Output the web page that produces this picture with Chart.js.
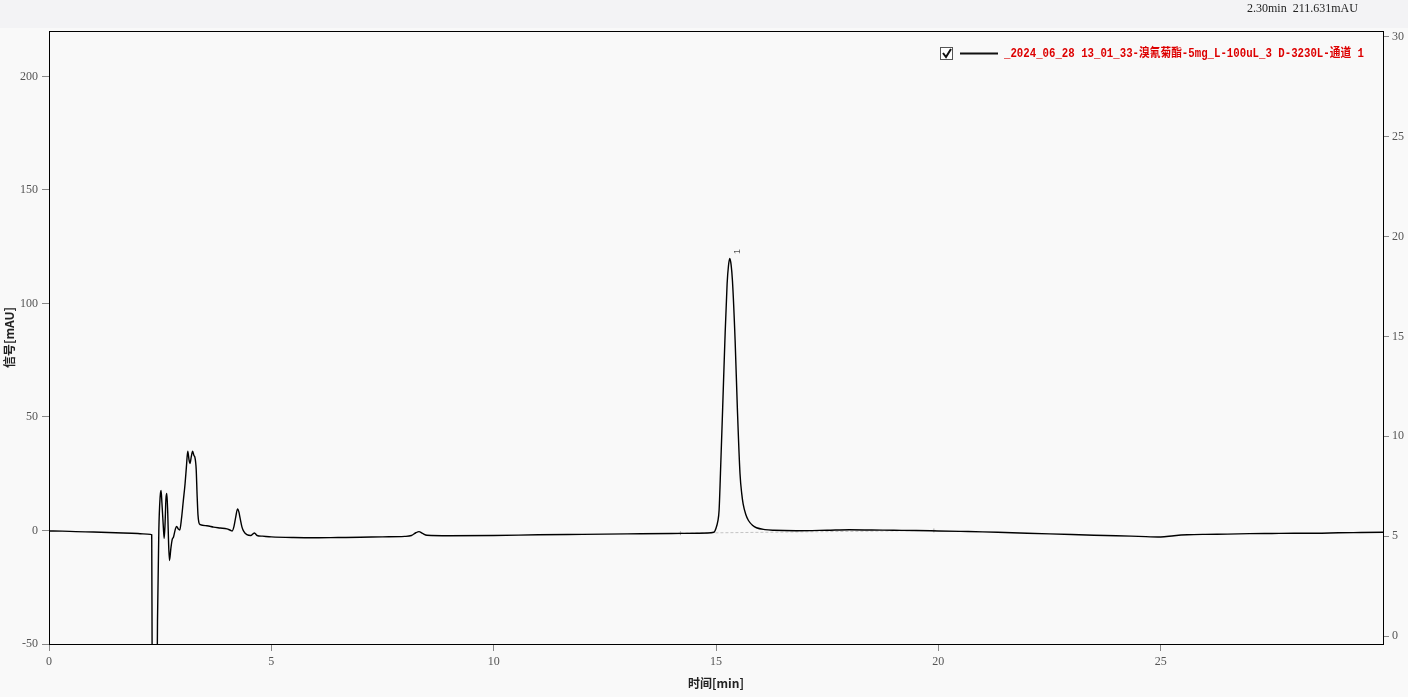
<!DOCTYPE html>
<html lang="zh">
<head>
    <meta charset="UTF-8">
    <title>Chromatogram</title>
    <script src="https://cdn.jsdelivr.net/npm/chart.js"></script>
    <style>
        html, body {
            margin: 0;
            padding: 0;
            background: #f9f9f9;
        }
        .chart-box {
            position: relative;
            width: 1408px;
            height: 697px;
        }
    </style>
</head>
<body>
    <div class="chart-box">
        <canvas id="chromChart"></canvas>
    </div>

    <script>
        // retention time [min] and detector signal [mAU]
        const times = [
            0.0, 0.3, 0.6, 1.0, 1.5, 2.0, 2.28, 2.31, 2.32, 2.34, 2.42, 2.44, 2.47, 2.50, 2.52,
            2.54, 2.57, 2.59, 2.61, 2.63, 2.65, 2.67, 2.69, 2.71, 2.74, 2.77, 2.80, 2.84, 2.87,
            2.91, 2.94, 2.98, 3.02, 3.06, 3.09, 3.12, 3.15, 3.17, 3.20, 3.23, 3.26, 3.28, 3.31,
            3.33, 3.35, 3.37, 3.40, 3.55, 3.70, 3.85, 4.00, 4.08, 4.12, 4.16, 4.20, 4.24, 4.27,
            4.30, 4.34, 4.38, 4.45, 4.54, 4.58, 4.62, 4.68, 4.80, 5.0, 5.5, 6.0, 6.5, 7.0, 7.5,
            8.0, 8.15, 8.25, 8.32, 8.40, 8.50, 9.0, 10.0, 11.0, 12.0, 13.0, 14.0, 14.6, 14.95,
            15.00, 15.04, 15.07, 15.10, 15.15, 15.20, 15.25, 15.28, 15.31, 15.34, 15.37, 15.43,
            15.48, 15.54, 15.58, 15.61, 15.67, 15.73, 15.82, 15.91, 16.10, 16.3, 16.8, 17.5,
            18.0, 18.5, 19.0, 19.5, 20.0, 20.5, 21.0, 21.5, 22.0, 22.5, 23.0, 23.5, 24.0, 24.5,
            25.0, 25.3, 25.6, 26.0, 26.5, 27.0, 27.5, 28.0, 28.5, 29.0, 29.5, 30.0
        ];
        const signal = [
            -0.2, -0.3, -0.5, -0.7, -1.0, -1.3, -1.7, -1.9, -60, -90, -90, -40, 0, 15, 17.6,
            12, 2, -3.5, 3, 14, 16.3, 8, -6, -13.2, -8, -4, -2.9, 0.5, 1.8,
            0.6, 0.2, 5.3, 13, 20.6, 28, 34.9, 31, 29.5, 32.5, 34.9, 33, 32.3, 27,
            16, 7, 3.6, 2.6, 2.1, 1.5, 1.1, 0.7, 0.1, -0.2, 1.8, 6, 9.5, 8.2,
            5.2, 1.5, -0.4, -1.8, -2.2, -1.6, -1.1, -2.2, -2.5, -2.8, -3.1, -3.2, -3.1, -3.0, -2.8,
            -2.6, -2.2, -1.0, -0.5, -1.3, -2.1, -2.3, -2.2, -1.9, -1.7, -1.5, -1.3, -1.2, -0.8,
            1.0, 4, 9, 25, 54, 83.7, 108.7, 116.5, 119.8, 117, 110, 83.7,
            54, 25, 16, 11.7, 7, 4.4, 2.3, 1.2, 0.4, 0.1, -0.1, 0.1,
            0.3, 0.2, 0.1, 0.0, -0.2, -0.4, -0.6, -0.9, -1.2, -1.5, -1.8, -2.1, -2.3, -2.6,
            -2.9, -2.3, -1.9, -1.7, -1.6, -1.4, -1.3, -1.2, -1.2, -1.0, -0.9, -0.8
        ];

        // integration baseline of peak 1
        const baseTimes = [14.2, 19.9];
        const baseSignal = [-1.2, 0.0];

        // peak annotation
        const peakNames = ['1'];
        const peakTimes = [15.31];
        const peakHeights = [119.8];

        // axis ticks
        const timeTicks = [0, 5, 10, 15, 20, 25];
        const signalTicks = [-50, 0, 50, 100, 150, 200];
        const rightTicks = [0, 5, 10, 15, 20, 25, 30];

        const seriesName = '_2024_06_28 13_01_33-溴氰菊酯-5mg_L-100uL_3 D-3230L-通道 1';
        const cursorText = '2.30min  211.631mAU';

        const tickFont = { family: "'Liberation Serif', serif", size: 12 };
        const titleFont = { family: "'Noto Sans CJK SC', sans-serif", size: 12, weight: 'bold' };

        // background, frame, legend, header, peak label
        const decorPlugin = {
            id: 'decor',
            beforeDraw(chart) {
                const ctx = chart.ctx;
                ctx.save();
                ctx.fillStyle = '#f9f9f9';
                ctx.fillRect(0, 0, chart.width, chart.height);
                ctx.fillStyle = '#f3f3f5';
                ctx.fillRect(0, 0, chart.width, 28);
                ctx.restore();
            },
            afterDraw(chart) {
                const ctx = chart.ctx;
                const area = chart.chartArea;
                ctx.save();

                // frame
                ctx.strokeStyle = '#000';
                ctx.lineWidth = 1;
                ctx.strokeRect(area.left + 0.5, area.top + 0.5, area.right - area.left, area.bottom - area.top);

                // cursor readout
                ctx.fillStyle = '#222';
                ctx.font = "12px 'Liberation Serif', serif";
                ctx.textBaseline = 'middle';
                ctx.textAlign = 'left';
                ctx.fillText(cursorText, 1247, 9, 112);

                // legend: checkbox, line sample, name
                ctx.fillStyle = '#fff';
                ctx.fillRect(940.5, 47.5, 12, 12);
                ctx.strokeStyle = '#555';
                ctx.strokeRect(940.5, 47.5, 12, 12);
                ctx.strokeStyle = '#111';
                ctx.lineWidth = 2;
                ctx.beginPath();
                ctx.moveTo(943, 53);
                ctx.lineTo(946, 57);
                ctx.lineTo(951, 49);
                ctx.stroke();

                ctx.beginPath();
                ctx.moveTo(960, 53.5);
                ctx.lineTo(998, 53.5);
                ctx.stroke();

                ctx.fillStyle = '#dd0000';
                ctx.font = "bold 12px 'Liberation Mono', 'Noto Sans CJK SC', monospace";
                ctx.fillText(seriesName, 1004, 54, 360);

                // peak label
                const xs = chart.scales.x;
                const ys = chart.scales.y;
                ctx.fillStyle = '#555';
                ctx.font = "9px 'Liberation Sans', sans-serif";
                peakNames.forEach((name, i) => {
                    const px = xs.getPixelForValue(peakTimes[i]);
                    const py = ys.getPixelForValue(peakHeights[i]);
                    ctx.save();
                    ctx.translate(px + 8, py - 7);
                    ctx.rotate(-Math.PI / 2);
                    ctx.textAlign = 'center';
                    ctx.fillText(name, 0, 0);
                    ctx.restore();
                });

                ctx.restore();
            }
        };

        const ctx = document.getElementById('chromChart').getContext('2d');
        new Chart(ctx, {
            type: 'line',
            data: {
                datasets: [{
                    label: seriesName,
                    data: times.map((t, i) => ({ x: t, y: signal[i] })),
                    borderColor: '#000',
                    borderWidth: 1.4,
                    pointRadius: 0,
                    cubicInterpolationMode: 'monotone',
                    yAxisID: 'y'
                }, {
                    label: 'baseline',
                    data: baseTimes.map((t, i) => ({ x: t, y: baseSignal[i] })),
                    borderColor: '#c4c4c4',
                    borderWidth: 1,
                    borderDash: [3, 2],
                    pointStyle: 'cross',
                    pointRadius: 2,
                    pointBorderColor: '#aaa',
                    yAxisID: 'y'
                }]
            },
            options: {
                responsive: true,
                maintainAspectRatio: false,
                animation: false,
                layout: { padding: { top: 31, left: 0, right: 0, bottom: 0 } },
                plugins: {
                    legend: { display: false },
                    tooltip: { enabled: false }
                },
                scales: {
                    x: {
                        type: 'linear',
                        min: 0,
                        max: 30,
                        afterBuildTicks: s => { s.ticks = timeTicks.map(v => ({ value: v })); },
                        afterFit: s => { s.height = 53; },
                        grid: { drawOnChartArea: false, tickLength: 7, color: '#888' },
                        border: { display: false },
                        ticks: { font: tickFont, color: '#555', padding: 4, maxRotation: 0 },
                        title: { display: true, text: '时间[min]', font: titleFont, color: '#222', padding: { top: 0, bottom: 6 } }
                    },
                    y: {
                        type: 'linear',
                        position: 'left',
                        min: -50,
                        max: 220,
                        afterBuildTicks: s => { s.ticks = signalTicks.map(v => ({ value: v })); },
                        afterFit: s => { s.width = 49; },
                        grid: { drawOnChartArea: false, tickLength: 7, color: '#888' },
                        border: { display: false },
                        ticks: { font: tickFont, color: '#555', padding: 4 },
                        title: { display: true, text: '信号[mAU]', font: titleFont, color: '#222', padding: { top: 2, bottom: 0 } }
                    },
                    y2: {
                        type: 'linear',
                        position: 'right',
                        min: -0.4,
                        max: 30.3,
                        afterBuildTicks: s => { s.ticks = rightTicks.map(v => ({ value: v })); },
                        afterFit: s => { s.width = 25; },
                        grid: { drawOnChartArea: false, tickLength: 6, color: '#888' },
                        border: { display: false },
                        ticks: { font: tickFont, color: '#555', padding: 3 }
                    }
                }
            },
            plugins: [decorPlugin]
        });
    </script>
</body>
</html>
